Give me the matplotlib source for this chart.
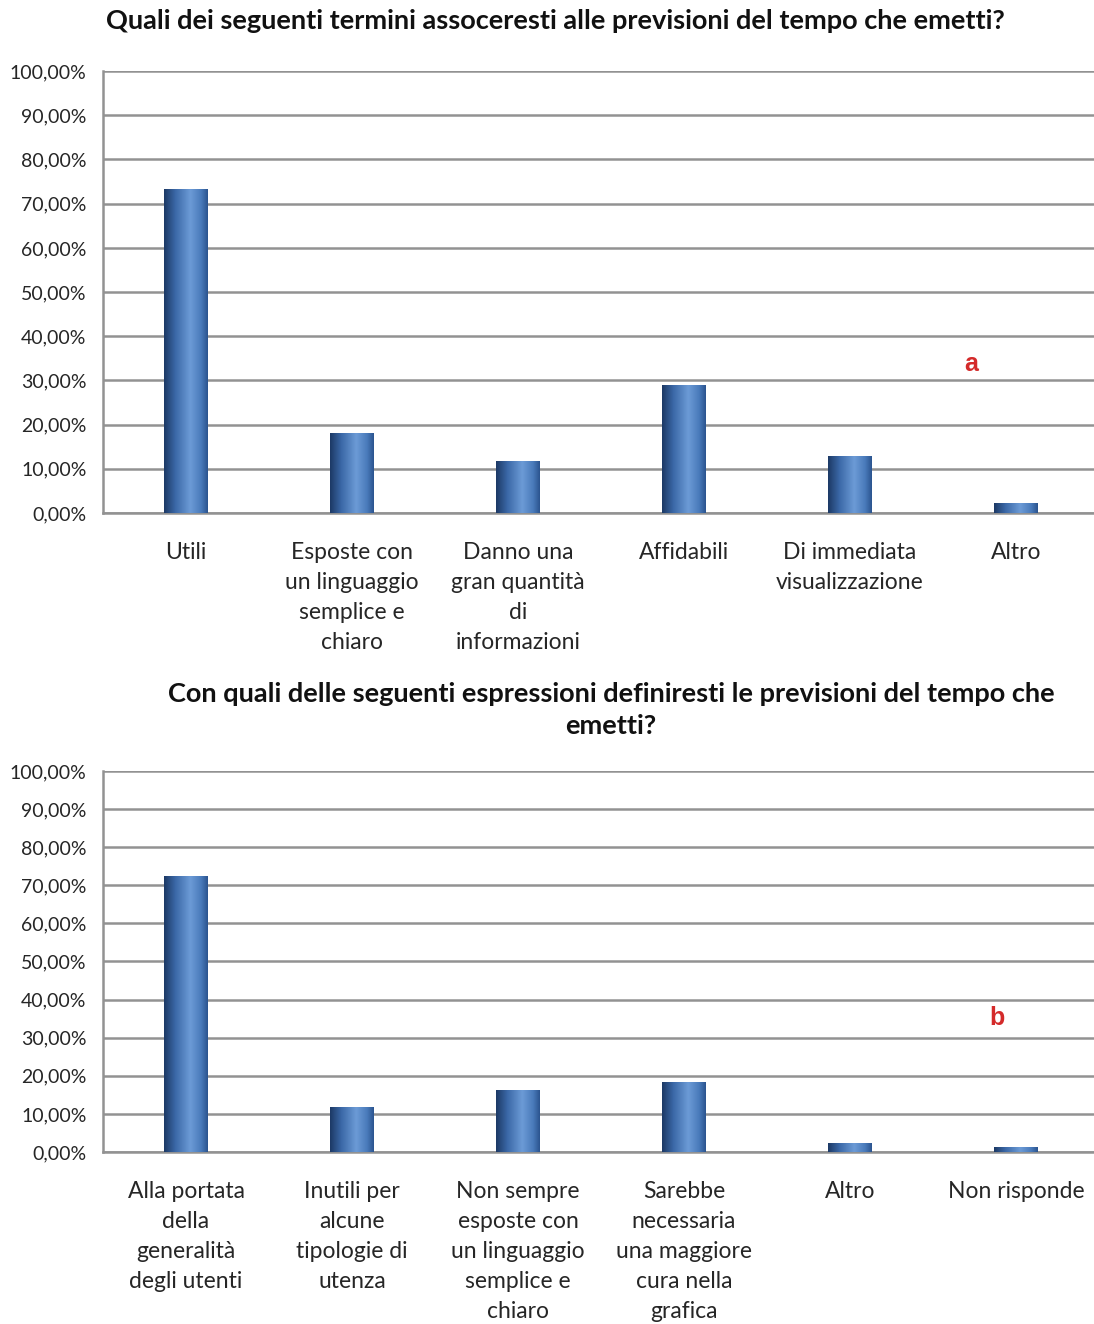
import numpy as np
import matplotlib
matplotlib.use('Agg')
import matplotlib.pyplot as plt
from matplotlib.colors import LinearSegmentedColormap
from matplotlib.ticker import MultipleLocator, FuncFormatter

# survey answers, percent of respondents
cats_a = ['Utili', 'Esposte con\nun linguaggio\nsemplice e\nchiaro', 'Danno una\ngran quantità\ndi\ninformazioni',
          'Affidabili', 'Di immediata\nvisualizzazione', 'Altro']
vals_a = [73.3, 18.1, 11.8, 29.0, 12.9, 2.3]

cats_b = ['Alla portata\ndella\ngeneralità\ndegli utenti', 'Inutili per\nalcune\ntipologie di\nutenza',
          'Non sempre\nesposte con\nun linguaggio\nsemplice e\nchiaro', 'Sarebbe\nnecessaria\nuna maggiore\ncura nella\ngrafica',
          'Altro', 'Non risponde']
vals_b = [72.4, 11.8, 16.3, 18.4, 2.4, 1.3]

title_a = 'Quali dei seguenti termini assoceresti alle previsioni del tempo che emetti?'
title_b = 'Con quali delle seguenti espressioni definiresti le previsioni del tempo che\nemetti?'

plt.rcParams['font.family'] = ['Lato', 'DejaVu Sans']

# cylinder-ish shading across each bar
bar_cmap = LinearSegmentedColormap.from_list('cyl', [
    (0.0, '#1d3a66'), (0.25, '#3a67a6'), (0.6, '#6c9bd6'), (0.85, '#4a7bbb'), (1.0, '#2c5590')])
grad = np.linspace(0, 1, 64).reshape(1, -1)


def draw_chart(ax, cats, vals):
    x = np.arange(len(cats))
    bars = ax.bar(x, vals, width=0.265, color='none', edgecolor='none', zorder=3)
    for b in bars:
        x0, y0 = b.get_x(), b.get_y()
        im = ax.imshow(grad, cmap=bar_cmap, aspect='auto', zorder=3,
                       extent=(x0, x0 + b.get_width(), y0, y0 + b.get_height()))
        im.set_clip_path(b)
    ax.set_xlim(-0.5, len(cats) - 0.5)
    ax.set_ylim(0, 100)
    ax.yaxis.set_major_locator(MultipleLocator(10))
    ax.yaxis.set_major_formatter(FuncFormatter(lambda v, p: f'{v:.2f}%'.replace('.', ',')))
    ax.grid(axis='y', color='#929292', linewidth=1.8, zorder=1)
    ax.set_xticks(x)
    ax.set_xticklabels(cats, fontsize=16.5, color='#262626', linespacing=1.52, va='top')
    ax.tick_params(axis='x', length=0, pad=21)
    ax.tick_params(axis='y', length=0, pad=12, labelsize=14, labelcolor='#262626')
    for s in ['top', 'right']:
        ax.spines[s].set_visible(False)
    for s in ['left', 'bottom']:
        ax.spines[s].set_color('#929292')
        ax.spines[s].set_linewidth(1.8)


fig = plt.figure(figsize=(10.94, 13.24), dpi=100, facecolor='white')
ax1 = fig.add_axes([0.0942, 0.6125, 0.9104, 0.3338])
ax2 = fig.add_axes([0.0942, 0.1299, 0.9104, 0.2878])
draw_chart(ax1, cats_a, vals_a)
draw_chart(ax2, cats_b, vals_b)

fig.text(555 / 1094, 1 - 21 / 1324, title_a, ha='center', va='center', fontsize=19.5, fontweight='bold', color='#111111')
fig.text(611 / 1094, 1 - 710 / 1324, title_b, ha='center', va='center', fontsize=19.5, fontweight='bold',
         color='#111111', linespacing=1.35)

fig.text(971 / 1094, 1 - 364 / 1324, 'a', ha='center', va='center', fontsize=18, fontweight='bold',
         color='#d42a2a', family='Liberation Sans')
fig.text(997 / 1094, 1 - 1018 / 1324, 'b', ha='center', va='center', fontsize=18, fontweight='bold',
         color='#d42a2a', family='Liberation Sans')

fig.savefig('out.png', dpi=100, facecolor='white')
